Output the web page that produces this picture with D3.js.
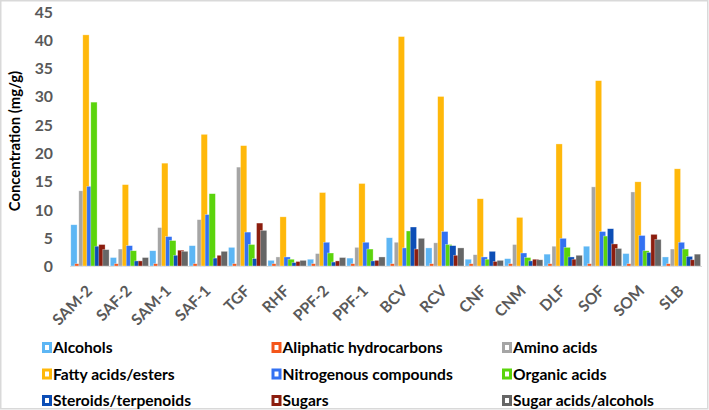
<!DOCTYPE html>
<html><head><meta charset="utf-8">
<script src="https://cdn.jsdelivr.net/npm/d3@7"></script>
<style>body{margin:0;background:#fff}svg{display:block}text{font-family:Lato,"Open Sans",sans-serif}</style>
</head><body><svg id="c" width="709" height="410"></svg>
<script>
const categories = ["SAM-2","SAF-2","SAM-1","SAF-1","TGF","RHF","PPF-2","PPF-1","BCV","RCV","CNF","CNM","DLF","SOF","SOM","SLB"];
const seriesNames = ["Alcohols","Aliphatic hydrocarbons","Amino acids","Fatty acids/esters","Nitrogenous compounds","Organic acids","Steroids/terpenoids","Sugars","Sugar acids/alcohols"];
const seriesColors = ["#5DB6F4","#F4561A","#A5A5A5","#FFB80A","#3371F2","#5BD40C","#0C4EB6","#8C1D0E","#666666"];
const alcohols      = [7.3,1.5,2.7,3.6,3.3,1.0,1.2,1.4,5.0,3.2,1.2,1.3,2.1,3.5,2.2,1.6];
const aliphatic     = [0.4,0.4,0.4,0.4,0.4,0.4,0.4,0.4,0.4,0.4,0.4,0.4,0.4,0.4,0.4,0.4];
const aminoAcids    = [13.3,3.0,6.8,8.2,17.5,1.6,2.2,3.3,4.2,4.1,2.0,3.8,3.5,14.0,13.1,3.0];
const fattyAcids    = [40.9,14.4,18.2,23.3,21.3,8.7,13.0,14.6,40.6,30.0,11.9,8.6,21.6,32.8,14.9,17.2];
const nitrogenous   = [14.1,3.6,5.2,9.1,6.0,1.6,4.2,4.2,3.2,6.1,1.6,2.3,4.9,6.1,5.4,4.2];
const organicAcids  = [29.0,2.7,4.5,12.8,3.8,1.2,2.3,3.0,6.2,3.8,1.2,1.5,3.3,5.3,2.7,3.0];
const steroids      = [3.5,0.9,1.9,1.4,1.3,0.6,0.7,0.9,6.9,3.6,2.6,0.9,1.6,6.6,2.4,1.7];
const sugars        = [3.8,0.9,2.8,1.9,7.6,0.8,0.9,1.0,3.0,1.9,0.8,1.2,1.2,3.9,5.6,1.1];
const sugarAcids    = [2.9,1.5,2.6,2.6,6.3,1.0,1.5,1.6,4.9,3.2,1.0,1.1,1.9,3.1,4.7,2.1];
const seriesValues = [alcohols,aliphatic,aminoAcids,fattyAcids,nitrogenous,organicAcids,steroids,sugars,sugarAcids];
const yTicks = [0,5,10,15,20,25,30,35,40,45];

const svg = d3.select("#c");
svg.append("rect").attr("x",0.75).attr("y",0.75).attr("width",707).attr("height",408)
  .attr("fill","#fff").attr("stroke","#d9d9d9").attr("stroke-width",1.5);

const x = d3.scaleBand().domain(categories).range([70.5,701.4]).padding(0);
const y = d3.scaleLinear().domain([0,45]).range([266,11.7]);
const bw = x.bandwidth();
const step = bw*4.0/39.43, barW = bw*6.3/39.43;
const inner = d3.scaleLinear().domain([0,1]).range([0.3, 0.3+step]);

// y axis labels
const yAxis = d3.axisLeft(y).tickValues(yTicks).tickSize(0).tickPadding(0);
const gy = svg.append("g").attr("transform","translate(53,0)").call(yAxis);
gy.select(".domain").remove();
gy.selectAll("text").attr("fill","#595959").attr("font-size",15.8).attr("font-weight",700)
  .attr("font-family","Lato, sans-serif").attr("dy","0.35em");

// baseline
svg.append("line").attr("x1",70).attr("x2",702).attr("y1",y(0)+0.5).attr("y2",y(0)+0.5)
  .attr("stroke","#d9d9d9").attr("stroke-width",1);

// bars
seriesValues.forEach((vals,j)=>{
  svg.append("g").selectAll("rect").data(vals).join("rect")
    .attr("x",(d,i)=>x(categories[i])+inner(j))
    .attr("width",barW)
    .attr("y",d=>y(d))
    .attr("height",d=>y(0)-y(d))
    .attr("fill",seriesColors[j])
    .attr("stroke","#ffffff").attr("stroke-opacity",0.55).attr("stroke-width",0.6);
});

// x labels
const xAxis = d3.axisBottom(x).tickSize(0).tickPadding(0);
const gx = svg.append("g").call(xAxis);
gx.select(".domain").remove();
gx.selectAll(".tick").attr("transform",d=>`translate(${x(d)+bw/2+3},292)`);
gx.selectAll("text").attr("y",0).attr("dy",0).attr("transform","rotate(-45)")
  .attr("text-anchor","end").attr("fill","#595959").attr("font-size",15.5).attr("font-weight",700)
  .attr("font-family","Lato, sans-serif");

// y title
svg.append("text").attr("transform","translate(19.5,141) rotate(-90)").attr("text-anchor","middle")
  .attr("font-size",14.8).attr("font-weight",700).attr("fill","#000").text("Concentration (mg/g)");

// legend
const colX = [42,271.5,502], rowY = [348,374.5,401];
seriesNames.forEach((name,k)=>{
  const cx = colX[k%3], cy = rowY[Math.floor(k/3)];
  const g = svg.append("g").attr("transform",`translate(${cx},${cy})`);
  g.append("rect").attr("x",1.5).attr("y",-4.5).attr("width",7).attr("height",8)
    .attr("fill","#fff").attr("stroke",seriesColors[k]).attr("stroke-width",3);
  g.append("text").attr("x",11).attr("y",0).attr("dy","0.35em").attr("font-size",15.6)
    .attr("font-weight",700).attr("fill","#000").text(name);
});
</script></body></html>
